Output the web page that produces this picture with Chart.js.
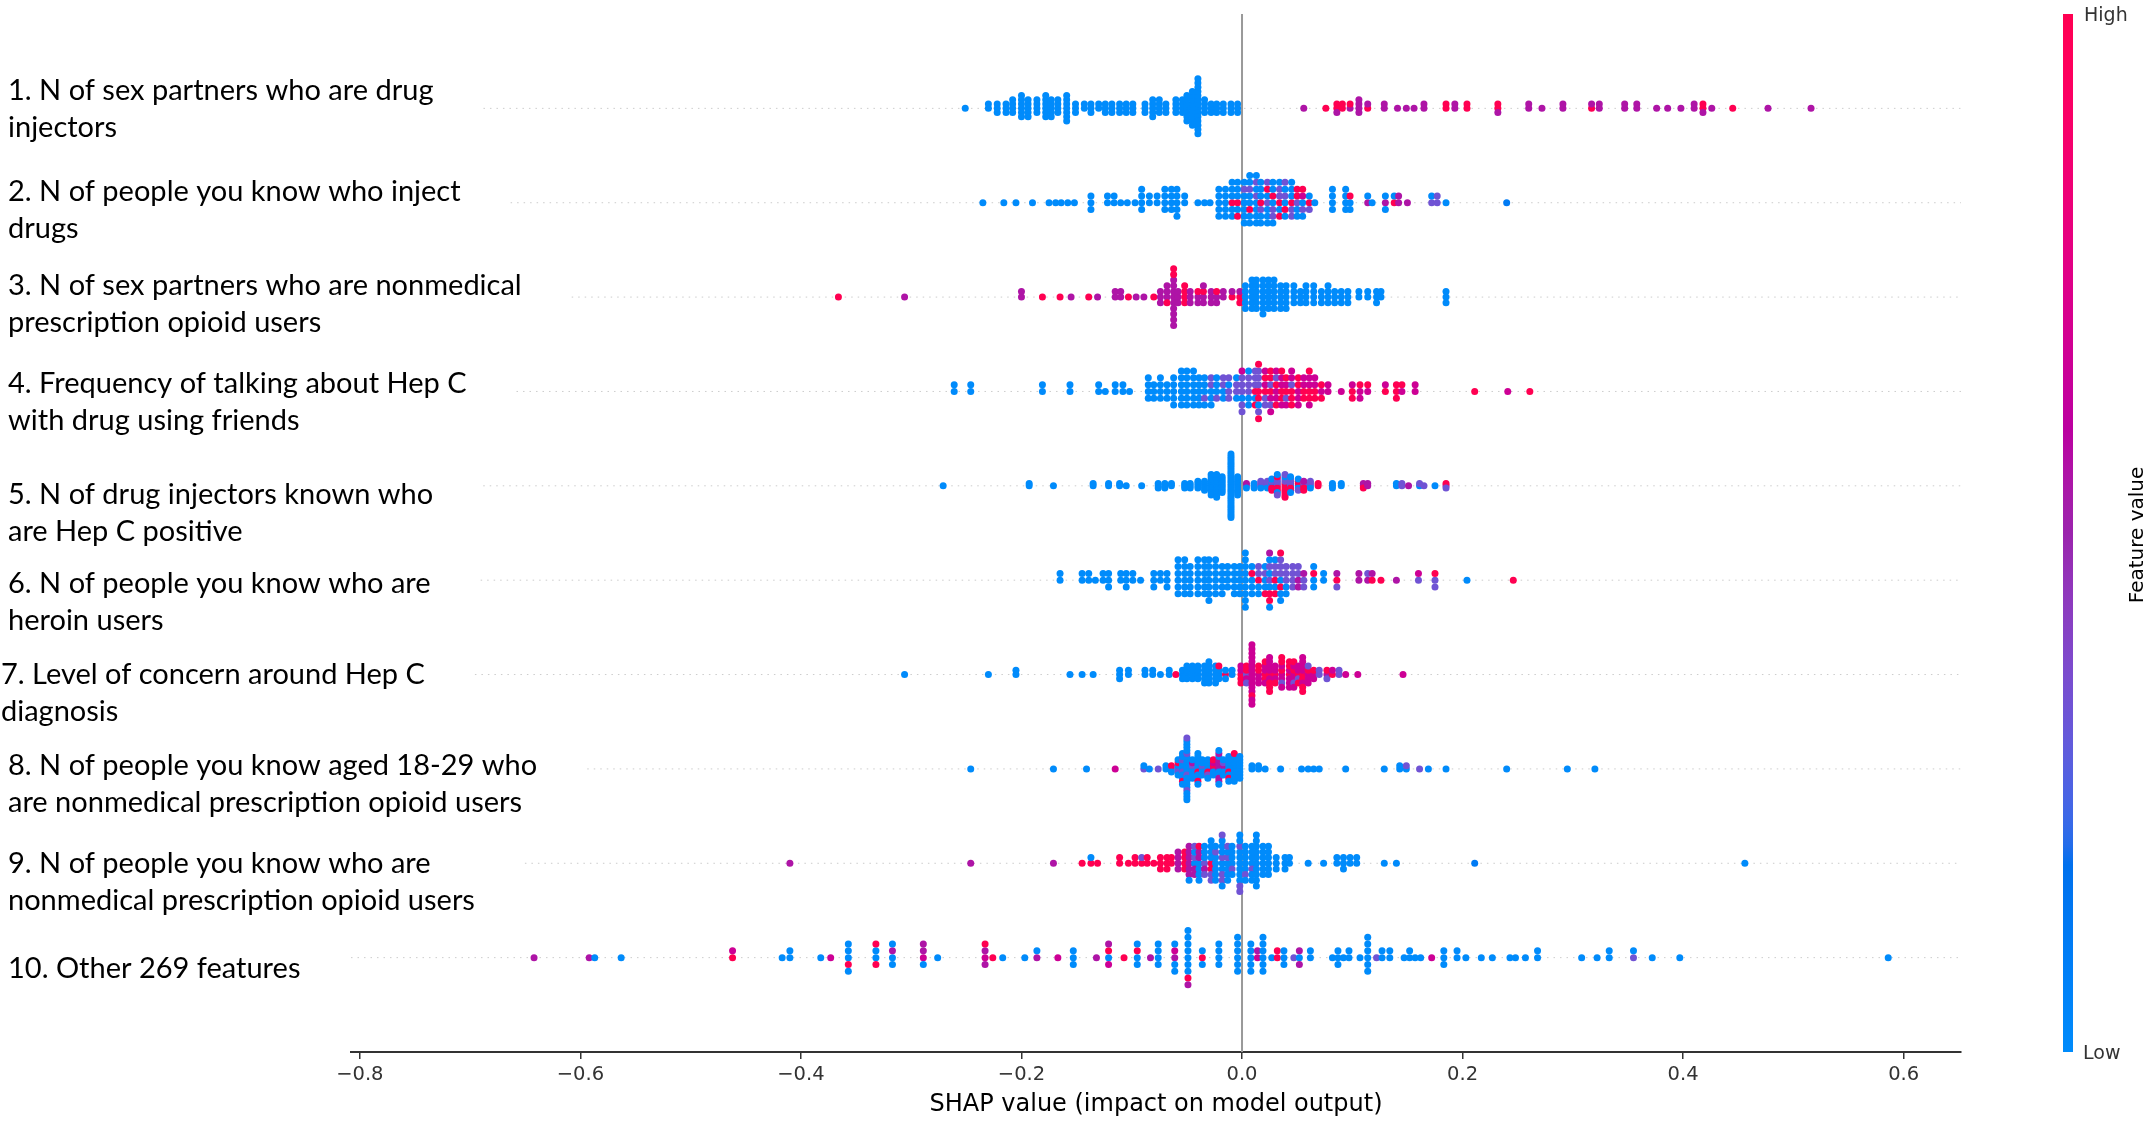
<!DOCTYPE html>
<html>
<head>
<meta charset="utf-8">
<script src="https://cdn.jsdelivr.net/npm/chart.js@4.4.1/dist/chart.umd.min.js"></script>
<style>
  html, body { margin: 0; padding: 0; background: #fff; }
  canvas { display: block; }
</style>
</head>
<body>
<canvas id="grafico" width="2153" height="1124"></canvas>
<script>
// feature labels, top row first
const featureNames = [
  ['1. N of sex partners who are drug', 'injectors'],
  ['2. N of people you know who inject', 'drugs'],
  ['3. N of sex partners who are nonmedical', 'prescription opioid users'],
  ['4. Frequency of talking about Hep C', 'with drug using friends'],
  ['5. N of drug injectors known who', 'are Hep C positive'],
  ['6. N of people you know who are', 'heroin users'],
  ['7. Level of concern around Hep C', 'diagnosis'],
  ['8. N of people you know aged 18-29 who', 'are nonmedical prescription opioid users'],
  ['9. N of people you know who are', 'nonmedical prescription opioid users'],
  ['10. Other 269 features']
];

const tickValues = [-0.8, -0.6, -0.4, -0.2, 0.0, 0.2, 0.4, 0.6];

// each row: [SHAP value x1000, feature values of the stacked dots (0 = low ... 9 = high)]
const row1 = [[-251,'0'],[-230,'00'],[-222,'000'],[-214,'000'],[-208,'0000'],[-200,'000000'],[-194,'00000'],[-186,'0000'],[-178,'000000'],[-173,'00000'],[-167,'0000'],[-159,'0000000'],[-151,'000'],[-143,'00'],[-137,'000'],[-130,'00'],[-124,'000'],[-118,'000'],[-111,'000'],[-105,'000'],[-99,'000'],[-88,'000'],[-81,'00000'],[-75,'0000'],[-69,'000'],[-60,'0000'],[-54,'0000'],[-50,'0000000'],[-45,'000000000'],[-40,'00000000000000'],[-34,'0000'],[-28,'000'],[-23,'000'],[-17,'000'],[-10,'000'],[-4,'000'],
  [56,'5'],[76,'9'],[86,'995'],[91,'99'],[98,'59'],[106,'5555'],[114,'95'],[129,'55'],[141,'5'],[149,'5'],[156,'5'],[165,'55'],[185,'99'],[193,'55'],[204,'99'],[232,'995'],[260,'55'],[272,'5'],[291,'55'],[317,'95'],[324,'55'],[347,'55'],[358,'55'],[376,'5'],[386,'5'],[398,'5'],[410,'55'],[418,'995'],[426,'5'],[445,'9'],[477,'5'],[516,'5']];

const row2 = [[-235,'0'],[-216,'0'],[-205,'0'],[-190,'0'],[-175,'0'],[-169,'0'],[-164,'0'],[-158,'0'],[-152,'0'],[-137,'000'],[-122,'00'],[-116,'00'],[-110,'0'],[-104,'0'],[-97,'0'],[-91,'0000'],[-84,'00'],[-77,'00'],[-70,'0000'],[-64,'0000'],[-59,'00000'],[-52,'00'],[-40,'0'],[-34,'0'],[-29,'0'],[-21,'00000'],[-15,'00000'],[-9,'900000'],[-4,'900090'],[2,'0003000'],[7,'00930000'],[13,'03000300'],[17,'9030000'],[23,'3009030'],[28,'0930300'],[34,'930390'],[39,'039003'],[45,'903030'],[50,'39090'],[55,'06390'],[61,'903'],[66,'0'],[82,'0000'],[94,'0000'],[98,'090'],[114,'50'],[118,'0'],[130,'500'],[138,'90'],[142,'55'],[150,'5'],[172,'30'],[177,'33'],[185,'0'],[240,'1']];

const row3 = [[-366,'9'],[-306,'5'],[-200,'55'],[-181,'9'],[-165,'9'],[-155,'5'],[-139,'9'],[-131,'5'],[-115,'55'],[-110,'55'],[-103,'9'],[-96,'5'],[-89,'5'],[-80,'9'],[-74,'555'],[-68,'5595'],[-62,'55555559595'],[-58,'555'],[-52,'9999'],[-47,'555'],[-40,'595'],[-35,'5955'],[-28,'555'],[-23,'595'],[-17,'55'],[-9,'95'],[-2,'959'],[3,'00000'],[9,'000000'],[13,'000000'],[19,'0000000'],[24,'000000'],[29,'000000'],[35,'00000'],[40,'00000'],[47,'0000'],[53,'000'],[58,'0000'],[65,'0000'],[72,'000'],[78,'0000'],[84,'000'],[90,'000'],[96,'000'],[106,'00'],[114,'00'],[122,'000'],[126,'00'],[185,'000']];

const row4 = [[-261,'00'],[-246,'00'],[-181,'00'],[-156,'00'],[-130,'00'],[-124,'0'],[-115,'00'],[-108,'00'],[-102,'0'],[-85,'0000'],[-80,'000'],[-74,'0000'],[-68,'000'],[-62,'00000'],[-55,'000000'],[-50,'000000'],[-44,'000000'],[-39,'00000'],[-34,'00300'],[-28,'03030'],[-23,'0030'],[-17,'0303'],[-12,'3033'],[-5,'3300'],[0,'3303363'],[6,'330300'],[12,'930393'],[15,'939303399'],[21,'963936'],[26,'9369396'],[31,'696396'],[36,'969669'],[40,'96396'],[45,'939696'],[51,'69696'],[56,'9696'],[61,'969669'],[66,'9696'],[72,'699'],[78,'66'],[90,'6'],[100,'969'],[107,'696'],[114,'69'],[130,'96'],[140,'999'],[145,'69'],[157,'66'],[211,'9'],[241,'6'],[261,'9']];

const row5 = [[-271,'0'],[-193,'00'],[-171,'0'],[-135,'00'],[-121,'00'],[-111,'00'],[-105,'0'],[-91,'0'],[-76,'000'],[-70,'000'],[-64,'00'],[-52,'000'],[-47,'000'],[-40,'0000'],[-34,'00000'],[-28,'0000000000'],[-23,'00000000000'],[-18,'00000000'],[-10,'00000000000000000000000000000'],[-4,'000000000'],[4,'350'],[11,'000'],[17,'3303'],[23,'0303'],[27,'309390'],[32,'9393930930'],[39,'99939390939'],[44,'03939300'],[51,'090930'],[56,'93959'],[62,'0303'],[69,'99'],[82,'000'],[90,'00'],[110,'959'],[114,'55'],[140,'00'],[145,'33'],[151,'5'],[161,'03'],[165,'3'],[175,'0'],[185,'593']];

const row6 = [[-165,'00'],[-145,'00'],[-139,'00'],[-133,'0'],[-126,'00'],[-121,'000'],[-110,'00'],[-105,'000'],[-99,'00'],[-92,'0'],[-80,'000'],[-74,'00'],[-68,'000'],[-58,'000000'],[-52,'000000'],[-47,'00000'],[-40,'000000'],[-34,'000000'],[-30,'0000000'],[-24,'000000'],[-18,'00000'],[-13,'0000'],[-7,'00000'],[-2,'00000'],[3,'000000000'],[9,'09000'],[15,'93030'],[21,'03009'],[25,'300390950'],[30,'930390'],[35,'03930309'],[40,'33030'],[46,'3333'],[51,'5353'],[56,'353'],[65,'0900'],[74,'00'],[86,'953'],[106,'55'],[114,'53'],[118,'95'],[126,'9'],[140,'5'],[160,'36'],[175,'393'],[204,'0'],[246,'9']];

const row7 = [[-306,'0'],[-230,'0'],[-205,'00'],[-156,'0'],[-145,'0'],[-135,'0'],[-111,'000'],[-103,'00'],[-88,'00'],[-81,'00'],[-74,'0'],[-66,'00'],[-60,'9'],[-54,'000'],[-50,'0000'],[-45,'0000'],[-40,'0000'],[-34,'00000'],[-30,'000000'],[-24,'00000'],[-21,'0009'],[-15,'900'],[-9,'00'],[-1,'96969'],[4,'39693'],[9,'666666666696666'],[15,'69696'],[21,'969669'],[25,'966696969'],[30,'96669'],[36,'69663969'],[43,'9669696'],[47,'6966396'],[51,'96369'],[55,'969666969'],[60,'69636'],[65,'696'],[70,'33'],[77,'593'],[82,'96'],[88,'33'],[94,'6'],[105,'6'],[146,'6']];

const row8 = [[-246,'0'],[-171,'0'],[-141,'0'],[-115,'6'],[-89,'30'],[-84,'0'],[-76,'3'],[-69,'00'],[-64,'090'],[-58,'303900'],[-54,'00300300900'],[-50,'000030000300003000030'],[-45,'0305000'],[-40,'00900000900'],[-36,'030000'],[-31,'0090300'],[-26,'590609'],[-21,'550505505500'],[-17,'050300'],[-12,'009000900'],[-7,'0000000009'],[-2,'00000000'],[9,'00'],[15,'00'],[21,'0'],[35,'0'],[54,'0'],[60,'0'],[65,'0'],[70,'0'],[94,'0'],[129,'0'],[143,'00'],[149,'03'],[161,'3'],[169,'0'],[185,'0'],[240,'0'],[295,'0'],[320,'0']];

const row9 = [[-410,'5'],[-246,'5'],[-171,'5'],[-145,'9'],[-137,'90'],[-131,'9'],[-111,'99'],[-103,'9'],[-97,'99'],[-91,'93'],[-86,'99'],[-80,'9'],[-74,'999'],[-68,'999'],[-64,'99'],[-58,'5555'],[-52,'9999'],[-48,'5555550'],[-43,'035053'],[-39,'0505090'],[-34,'305030'],[-28,'90903030'],[-24,'0003000'],[-18,'0300303003'],[-13,'0300030'],[-9,'003000'],[-2,'00000300303'],[3,'0000300'],[9,'0030000'],[13,'0000000000'],[19,'000000'],[24,'000000'],[31,'000'],[39,'000'],[43,'00'],[60,'0'],[74,'0'],[86,'00'],[92,'000'],[98,'00'],[104,'00'],[129,'0'],[140,'0'],[211,'1'],[456,'0']];

const row10 = [[-642,'5'],[-592,'5'],[-587,'0'],[-563,'0'],[-462,'96'],[-417,'0'],[-410,'00'],[-382,'0'],[-373,'6'],[-357,'00900'],[-332,'0099'],[-317,'0500'],[-289,'6505'],[-276,'0'],[-233,'6559'],[-226,'9'],[-217,'0'],[-197,'0'],[-186,'50'],[-167,'6'],[-153,'000'],[-132,'5'],[-121,'0965'],[-107,'9'],[-95,'0900'],[-83,'5'],[-76,'0000'],[-61,'56000'],[-49,'000000905'],[-36,'900'],[-21,'0000'],[-4,'000000'],[8,'00000'],[14,'65'],[19,'000000'],[27,'0'],[32,'99'],[38,'000'],[47,'3'],[52,'055'],[62,'00'],[82,'0'],[87,'000'],[92,'0'],[97,'00'],[107,'0'],[114,'000000'],[122,'3'],[127,'00'],[134,'00'],[147,'0'],[152,'00'],[157,'0'],[162,'0'],[172,'6'],[183,'000'],[195,'00'],[203,'0'],[217,'0'],[227,'0'],[243,'0'],[248,'0'],[257,'0'],[268,'00'],[308,'0'],[322,'0'],[333,'00'],[355,'30'],[372,'0'],[397,'0'],[586,'0']];

const rows = [row1, row2, row3, row4, row5, row6, row7, row8, row9, row10];

// label placement (px)
const labelLeft = [8, 8, 8, 8, 8, 8, 1, 8, 8, 8];
const labelDy = [-18, -11, -11, -8, 9, 3, 0, -3, 0, 11];
const labelGap = 37;
const labelFont = '29px Lato';
const rowHeight = 0.4;

// shap red_blue colour map (LCh path from blue to red)
function shapColor(t) {
  const L = t < 0.5 ? 54 - 28 * t : 40 + 28 * (t - 0.5);
  const C = 70 + 20 * t;
  const h = 4.6588 + (0.35470565 + 2 * Math.PI - 4.6588) * t;
  const a = C * Math.cos(h), b = C * Math.sin(h);
  const fy = (L + 16) / 116, fx = fy + a / 500, fz = fy - b / 200;
  const finv = v => v > 0.2068966 ? v * v * v : (v - 16 / 116) / 7.787;
  const X = 0.95047 * finv(fx), Y = finv(fy), Z = 1.08883 * finv(fz);
  const r = 3.2404542 * X - 1.5371385 * Y - 0.4985314 * Z;
  const g = -0.9692660 * X + 1.8760108 * Y + 0.0415560 * Z;
  const bl = 0.0556434 * X - 0.2040259 * Y + 1.0572252 * Z;
  const gam = v => {
    v = v > 0.0031308 ? 1.055 * Math.pow(v, 1 / 2.4) - 0.055 : 12.92 * v;
    return Math.round(255 * Math.min(1, Math.max(0, v)));
  };
  return `rgb(${gam(r)},${gam(g)},${gam(bl)})`;
}

// stack the dots of each column like shap's beeswarm
function beeswarm(cols, pos) {
  const pts = [];
  cols.forEach(([v, codes]) => {
    for (let layer = 0; layer < codes.length; layer++) {
      const ys = Math.ceil(layer / 2) * ((layer % 2) * 2 - 1);
      pts.push({ x: v / 1000, ys: ys, t: Number(codes[layer]) / 9 });
    }
  });
  const top = Math.max(...pts.map(p => p.ys));
  const k = 0.9 * rowHeight / (top + 1);
  return pts.map(p => ({ x: p.x, y: pos + p.ys * k, t: p.t }));
}

const nRows = rows.length;
const datasets = rows.map((cols, i) => {
  const pts = beeswarm(cols, nRows - 1 - i);
  return {
    data: pts.map(p => ({ x: p.x, y: p.y })),
    backgroundColor: pts.map(p => shapColor(p.t)),
    pointRadius: 3.5,
    pointHoverRadius: 3.5,
    borderWidth: 0
  };
});

const shapDecor = {
  id: 'shapDecor',
  beforeDatasetsDraw(chart) {
    const { ctx, chartArea } = chart;
    const y = chart.scales.y;
    ctx.save();
    ctx.font = labelFont;
    ctx.strokeStyle = '#cccccc';
    ctx.lineWidth = 1;
    ctx.setLineDash([1.5, 5]);
    featureNames.forEach((lines, i) => {
      const py = y.getPixelForValue(nRows - 1 - i);
      const w = Math.max(...lines.map(t => ctx.measureText(t).width));
      const start = Math.max(chartArea.left, labelLeft[i] + w + 50);
      ctx.beginPath();
      ctx.moveTo(start, py);
      ctx.lineTo(chartArea.right, py);
      ctx.stroke();
    });
    ctx.setLineDash([]);
    const x0 = chart.scales.x.getPixelForValue(0);
    ctx.strokeStyle = '#999999';
    ctx.lineWidth = 2;
    ctx.beginPath();
    ctx.moveTo(x0, chartArea.top);
    ctx.lineTo(x0, chartArea.bottom);
    ctx.stroke();
    ctx.restore();
  },
  afterDraw(chart) {
    const { ctx, chartArea } = chart;
    const y = chart.scales.y;
    ctx.save();
    // feature names
    ctx.font = labelFont;
    ctx.fillStyle = '#000';
    ctx.textAlign = 'left';
    ctx.textBaseline = 'middle';
    featureNames.forEach((lines, i) => {
      const py = y.getPixelForValue(nRows - 1 - i) + labelDy[i];
      lines.forEach((t, j) => ctx.fillText(t, labelLeft[i], py + j * labelGap));
    });
    // colour bar
    const top = chartArea.top, bottom = chartArea.bottom;
    const grad = ctx.createLinearGradient(0, bottom, 0, top);
    for (let s = 0; s <= 50; s++) grad.addColorStop(s / 50, shapColor(s / 50));
    ctx.fillStyle = grad;
    ctx.fillRect(2063, top, 10, bottom - top);
    ctx.fillStyle = '#333';
    ctx.font = '19px "DejaVu Sans"';
    ctx.fillText('High', 2084, top + 2);
    ctx.fillText('Low', 2083, bottom + 2);
    ctx.translate(2138, 535);
    ctx.rotate(-Math.PI / 2);
    ctx.textAlign = 'center';
    ctx.fillStyle = '#000';
    ctx.font = '20px "DejaVu Sans"';
    ctx.fillText('Feature value', 0, 0);
    ctx.restore();
  }
};

new Chart(document.getElementById('grafico').getContext('2d'), {
  type: 'scatter',
  data: { datasets: datasets },
  options: {
    responsive: false,
    devicePixelRatio: 1,
    animation: false,
    events: [],
    layout: { padding: { left: 351, right: 192, top: 14, bottom: 0 } },
    plugins: { legend: { display: false }, tooltip: { enabled: false } },
    scales: {
      x: {
        type: 'linear',
        min: -0.808,
        max: 0.652,
        afterBuildTicks: scale => { scale.ticks = tickValues.map(v => ({ value: v })); },
        afterFit: scale => { scale.height = 72; },
        ticks: {
          color: '#333',
          font: { family: 'DejaVu Sans', size: 19.5 },
          padding: 4,
          maxRotation: 0,
          autoSkip: false,
          callback: v => (v < 0 ? '\u2212' : '') + Math.abs(v).toFixed(1)
        },
        grid: { drawOnChartArea: false, drawTicks: true, tickLength: 7, color: '#333', lineWidth: 1.5 },
        border: { color: '#333', width: 2 },
        title: {
          display: true,
          text: 'SHAP value (impact on model output)',
          color: '#000',
          font: { family: 'DejaVu Sans', size: 24 },
          padding: { top: 0, bottom: 5 }
        }
      },
      y: { type: 'linear', min: -1, max: 10, display: false }
    }
  },
  plugins: [shapDecor]
});
</script>
</body>
</html>
